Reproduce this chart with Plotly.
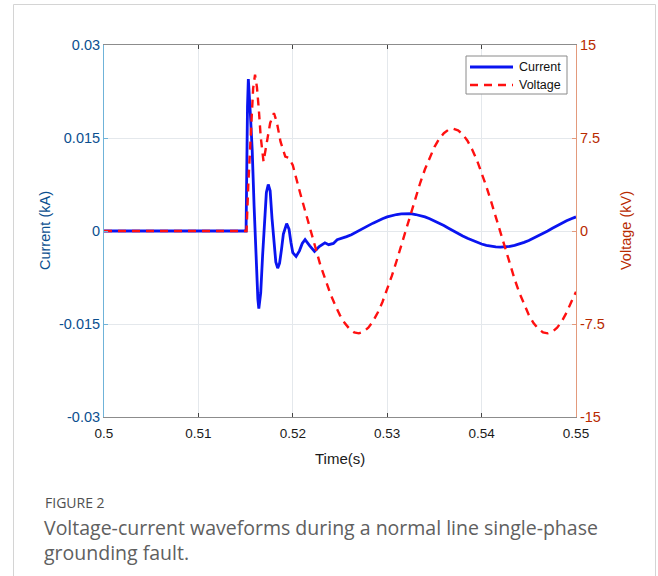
import plotly.graph_objects as go

# ---------------- data ----------------
t_current = [0.500, 0.5150, 0.51505, 0.5152, 0.51529, 0.5155, 0.5157, 0.5159, 0.5161, 0.5163,
             0.51640, 0.5166, 0.5168, 0.5170, 0.5172, 0.5174, 0.5176, 0.5178, 0.5180, 0.5182,
             0.5184, 0.5186, 0.5188, 0.5190, 0.51935, 0.5196, 0.5198, 0.5200, 0.52035, 0.5207,
             0.5210, 0.5213, 0.5218, 0.52230, 0.5228, 0.5234, 0.5238, 0.5243, 0.5247, 0.5252,
             0.5257, 0.5262, 0.5266, 0.5270, 0.5275, 0.5280, 0.5285, 0.5290, 0.5295, 0.5300,
             0.5305, 0.5310, 0.5315, 0.5320, 0.5325, 0.5330, 0.5335, 0.5340, 0.5345, 0.5350,
             0.5355, 0.5360, 0.5365, 0.5370, 0.5375, 0.5380, 0.5385, 0.5390, 0.5395, 0.5400,
             0.5405, 0.5410, 0.5415, 0.5420, 0.5425, 0.5430, 0.5435, 0.5440, 0.5445, 0.5450,
             0.5455, 0.5460, 0.5465, 0.5470, 0.5475, 0.5480, 0.5485, 0.5490, 0.5495, 0.5500]
current_kA = [0.0, 0.0, 0.0, 0.0200, 0.0245, 0.0190, 0.0130, 0.0040, -0.0050, -0.0110,
              -0.0125, -0.0100, -0.0040, 0.0020, 0.0062, 0.0075, 0.0065, 0.0020, -0.0020, -0.0050,
              -0.0060, -0.0052, -0.0030, -0.0005, 0.0012, 0.0003, -0.0018, -0.0035, -0.0041, -0.0032,
              -0.0020, -0.0014, -0.0024, -0.0033, -0.0025, -0.0019, -0.0022, -0.0020, -0.0014, -0.0012,
              -0.0009, -0.0006, -0.0003, 0.0000, 0.00044, 0.00087, 0.00127, 0.00165, 0.00198, 0.00227,
              0.00249, 0.00266, 0.00277, 0.00283, 0.00279, 0.00266, 0.00249, 0.00227, 0.00198, 0.00165,
              0.00127, 0.00087, 0.00044, 0.0000, -0.00041, -0.00080, -0.00118, -0.00153, -0.00184, -0.00210,
              -0.00232, -0.00247, -0.00257, -0.00260, -0.00257, -0.00247, -0.00232, -0.00210, -0.00184, -0.00153,
              -0.00118, -0.00080, -0.00041, 0.0000, 0.00044, 0.00087, 0.00127, 0.00165, 0.00198, 0.00227]

t_voltage = [0.500, 0.5151, 0.5153, 0.5156, 0.5158, 0.5160, 0.5162, 0.5164, 0.5166, 0.5169,
             0.5172, 0.5176, 0.5180, 0.5183, 0.5187, 0.5192, 0.5196, 0.5200, 0.5208, 0.5215,
             0.5222, 0.5229, 0.5235, 0.5240, 0.5245, 0.5250, 0.5255, 0.5260, 0.5265, 0.5270,
             0.5275, 0.5280, 0.5285, 0.5290, 0.5295, 0.5300, 0.5305, 0.5310, 0.5315, 0.5320,
             0.5325, 0.5330, 0.5335, 0.5340, 0.5345, 0.5350, 0.5355, 0.5360, 0.5365, 0.5370,
             0.5375, 0.5380, 0.5385, 0.5390, 0.5395, 0.5400, 0.5405, 0.5410, 0.5415, 0.5420,
             0.5425, 0.5430, 0.5435, 0.5440, 0.5445, 0.5450, 0.5455, 0.5460, 0.5465, 0.5470,
             0.5475, 0.5480, 0.5485, 0.5490, 0.5495, 0.5500]
voltage_kV = [0.0, 0.0, 4.0, 9.0, 11.5, 12.6, 11.6, 9.8, 7.6, 5.6,
              6.8, 8.7, 9.5, 8.8, 7.2, 6.0, 5.9, 5.3, 3.0, 1.2,
              -0.8, -2.7, -4.0, -5.1, -6.0, -6.8, -7.42, -7.89, -8.17, -8.25,
              -8.12, -7.80, -7.28, -6.58, -5.72, -4.72, -3.60, -2.40, -1.13, 0.16,
              1.45, 2.70, 3.89, 4.98, 5.94, 6.77, 7.42, 7.89, 8.17, 8.25,
              8.12, 7.80, 7.28, 6.58, 5.72, 4.72, 3.60, 2.40, 1.13, -0.16,
              -1.45, -2.70, -3.89, -4.98, -5.94, -6.77, -7.42, -7.89, -8.17, -8.25,
              -8.12, -7.80, -7.28, -6.58, -5.72, -4.90]

x_ticks = [0.50, 0.51, 0.52, 0.53, 0.54, 0.55]
x_tick_text = ["0.5", "0.51", "0.52", "0.53", "0.54", "0.55"]
y1_ticks = [-0.03, -0.015, 0.0, 0.015, 0.03]
y1_tick_text = ["-0.03", "-0.015", "0", "0.015", "0.03"]
y2_ticks = [-15, -7.5, 0, 7.5, 15]
y2_tick_text = ["-15", "-7.5", "0", "7.5", "15"]
series_names = ["Current", "Voltage"]

# ---------------- figure ----------------
W, H = 658, 576
L, R, T, B = 104, 82, 45, 159
pw, ph = W - L - R, H - T - B


def px(xp):
    return (xp - L) / pw


def py(yp):
    return (H - B - yp) / ph


BLUE = "#0a14f0"
RED = "#ff1010"
DASH = "8px,6px"

fig = go.Figure()
fig.add_trace(go.Scatter(x=t_current, y=current_kA, mode="lines", name=series_names[0],
                         line=dict(color=BLUE, width=2.8), yaxis="y"))
fig.add_trace(go.Scatter(x=t_voltage, y=voltage_kV, mode="lines", name=series_names[1],
                         line=dict(color=RED, width=2.4, dash=DASH), yaxis="y2"))

font_family = "Liberation Sans, Arial, sans-serif"

fig.update_layout(
    width=W, height=H,
    margin=dict(l=L, r=R, t=T, b=B),
    paper_bgcolor="white", plot_bgcolor="white",
    font=dict(family=font_family, size=13, color="#222"),
    showlegend=False,
    xaxis=dict(range=[0.5, 0.55], tickvals=x_ticks, ticktext=x_tick_text,
               showgrid=True, gridcolor="#e4e8ec", gridwidth=1, zeroline=False,
               showline=True, linecolor="#8c8c8c", linewidth=1, mirror="ticks",
               ticks="inside", ticklen=4, tickcolor="#444", ticklabelstandoff=4,
               tickfont=dict(size=13.5, color="#1a1a1a")),
    yaxis=dict(range=[-0.03, 0.03], tickvals=y1_ticks, ticktext=y1_tick_text,
               showgrid=True, gridcolor="#e4e8ec", gridwidth=1, zeroline=False,
               showline=True, linecolor="#6fb3d9", linewidth=1,
               ticks="inside", ticklen=4, tickcolor="#6fb3d9",
               tickfont=dict(size=14.5, color="#0b4f8f")),
    yaxis2=dict(range=[-15, 15], tickvals=y2_ticks, ticktext=y2_tick_text,
                overlaying="y", side="right", showgrid=False, zeroline=False,
                showline=True, linecolor="#e39a7c", linewidth=1,
                ticks="inside", ticklen=4, tickcolor="#e39a7c",
                tickfont=dict(size=14.5, color="#b82a00")),
)

# axis titles
fig.add_annotation(xref="paper", yref="paper", x=px(45), y=py(231), text="Current (kA)",
                   textangle=-90, showarrow=False, xanchor="center", yanchor="middle",
                   font=dict(size=14.5, color="#0b4f8f"))
fig.add_annotation(xref="paper", yref="paper", x=px(626), y=py(231), text="Voltage (kV)",
                   textangle=-90, showarrow=False, xanchor="center", yanchor="middle",
                   font=dict(size=14.5, color="#b82a00"))
fig.add_annotation(xref="paper", yref="paper", x=px(340), y=py(459), text="Time(s)",
                   showarrow=False, xanchor="center", yanchor="middle",
                   font=dict(size=15, color="#1a1a1a"))

# legend box (drawn as shapes + real text)
fig.add_shape(type="rect", xref="paper", yref="paper",
              x0=px(466), x1=px(567), y0=py(94), y1=py(56),
              line=dict(color="#8a8a8a", width=1), fillcolor="white", layer="above")
fig.add_shape(type="line", xref="paper", yref="paper", x0=px(470), x1=px(513), y0=py(67), y1=py(67),
              line=dict(color=BLUE, width=2.8), layer="above")
fig.add_shape(type="line", xref="paper", yref="paper", x0=px(470), x1=px(513), y0=py(85), y1=py(85),
              line=dict(color=RED, width=2.4, dash=DASH), layer="above")
fig.add_annotation(xref="paper", yref="paper", x=px(517), y=py(67), text=series_names[0],
                   showarrow=False, xanchor="left", yanchor="middle",
                   font=dict(size=12.5, color="#111"))
fig.add_annotation(xref="paper", yref="paper", x=px(517), y=py(85), text=series_names[1],
                   showarrow=False, xanchor="left", yanchor="middle",
                   font=dict(size=12.5, color="#111"))

# outer frame of the figure panel
fig.add_shape(type="rect", xref="paper", yref="paper",
              x0=px(13.5), x1=px(655.5), y0=py(600), y1=py(4.5),
              line=dict(color="#d4d4d4", width=1), fillcolor="rgba(0,0,0,0)", layer="below")

cap_font = "Open Sans, Noto Sans, sans-serif"
fig.add_annotation(xref="paper", yref="paper", x=px(44), y=py(513), xanchor="left", yanchor="bottom",
                   text="FIGURE 2", showarrow=False, borderpad=0,
                   font=dict(family=cap_font, size=14, color="#505050"))
fig.add_annotation(xref="paper", yref="paper", x=px(43), y=py(513), xanchor="left", yanchor="top",
                   text="Voltage-current waveforms during a normal line single-phase<br>grounding fault.",
                   showarrow=False, align="left", borderpad=0,
                   font=dict(family=cap_font, size=19.5, color="#606060"))

fig.write_html("out.html", config={"displayModeBar": False},
               post_script="document.body.style.margin='0';document.body.style.overflow='hidden';")
